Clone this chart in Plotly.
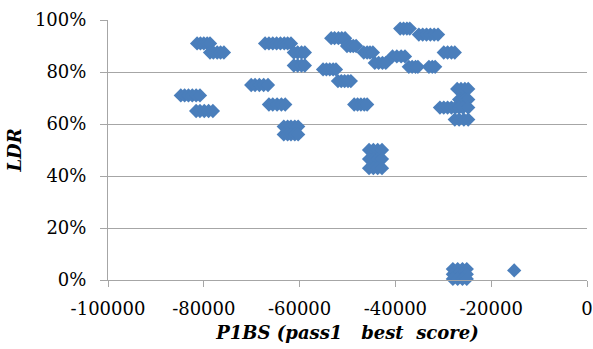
import plotly.graph_objects as go

# P1BS (pass1 best score) values and LDR (%) values
p1bs = [
    -81400, -80700, -80000, -79300, -78700,            # ~91%
    -78700, -78000, -77200, -76500, -75800,            # ~87.5%
    -84800, -84000, -83200, -82400, -81600, -80800,    # ~71%
    -81600, -80800, -79900, -79000, -78100,            # ~65%
    -70100, -69300, -68400, -67500, -66600,            # ~75%
    -66400, -65600, -64700, -63800, -63000,            # ~67.5%
    -67200, -66400, -65600, -64800, -64000, -63200, -62500, -61800,  # ~91%
    -61200, -60400, -59600, -58900,                    # ~87.5%
    -61200, -60400, -59600, -58900,                    # ~82.5%
    -63300, -62500, -61800, -61000, -60300,            # ~59%
    -63300, -62500, -61800, -61000, -60300,            # ~56%
    -53400, -52700, -51900, -51200, -50500,            # ~93%
    -50100, -49400, -48800, -48200,                    # ~90%
    -46600, -45900, -45300, -44700,                    # ~87.5%
    -44300, -43500, -42700, -42000,                    # ~83.5%
    -40600, -39700, -38800, -38000,                    # ~86%
    -55100, -54400, -53700, -53000, -52400,            # ~81%
    -52000, -51300, -50600, -49900, -49300,            # ~76.5%
    -48600, -47900, -47200, -46500, -45900,            # ~67.5%
    -39000, -38300, -37600, -37000,                    # ~96.7%
    -35100, -34300, -33500, -32700, -31900, -31100,    # ~94.4%
    -37200, -36500, -35800, -35300, -33000, -32300, -31700,  # ~82%
    -29900, -29100, -28300, -27600,                    # ~87.5%
    -27100, -26300, -25500, -24800,                    # ~73.5%
    -26700, -26000, -25400, -24800,                    # ~69.4%
    -30700, -29900, -29100, -28300, -27500, -26700, -25900, -24800,  # ~66.3%
    -27600, -26700, -25700, -24800,                    # ~61.7%
    -45500, -44600, -43700, -42800,                    # ~50%
    -45500, -44600, -43700, -42800,                    # ~46.5%
    -45500, -44600, -43700, -42800,                    # ~43%
    -28000, -27000, -26000, -25100,                    # ~4.2%
    -28000, -27000, -26000, -25100,                    # ~2.2%
    -28000, -27000, -26000, -25100,                    # ~0.4%
    -15200,                                            # ~3.7%
]
ldr = (
    [91.0] * 5 + [87.5] * 5 + [71.0] * 6 + [65.0] * 5 + [75.0] * 5 + [67.5] * 5
    + [91.0] * 8 + [87.5] * 4 + [82.5] * 4 + [59.0] * 5 + [56.0] * 5
    + [93.0] * 5 + [90.0] * 4 + [87.5] * 4 + [83.5] * 4 + [86.0] * 4
    + [81.0] * 5 + [76.5] * 5 + [67.5] * 5 + [96.7] * 4 + [94.4] * 6
    + [82.0] * 7 + [87.5] * 4 + [73.5] * 4 + [69.4] * 4 + [66.3] * 8
    + [61.7] * 4 + [50.0] * 4 + [46.5] * 4 + [43.0] * 4
    + [4.2] * 4 + [2.2] * 4 + [0.4] * 4 + [3.7]
)

x_tick_vals = [-100000, -80000, -60000, -40000, -20000, 0]
x_tick_text = ["-100000", "-80000", "-60000", "-40000", "-20000", "0"]
y_tick_vals = [0, 20, 40, 60, 80, 100]
y_tick_text = ["0%", "20%", "40%", "60%", "80%", "100%"]

blue = "#4a7ebb"
grid = "#a6a6a6"
font_family = "DejaVu Serif"

fig = go.Figure(
    go.Scatter(
        x=p1bs,
        y=ldr,
        mode="markers",
        marker=dict(symbol="diamond", size=11, color=blue, line=dict(width=0)),
        cliponaxis=False,
        hoverinfo="skip",
    )
)

fig.update_layout(
    width=593,
    height=349,
    margin=dict(l=108, r=6, t=20, b=69),
    paper_bgcolor="white",
    plot_bgcolor="white",
    showlegend=False,
    hovermode=False,
    font=dict(family=font_family, size=18, color="#000000"),
)

fig.update_xaxes(
    range=[-100000, 0],
    tickvals=x_tick_vals,
    ticktext=x_tick_text,
    showgrid=False,
    zeroline=False,
    showline=True,
    linecolor=grid,
    linewidth=1,
    ticks="outside",
    ticklen=6,
    tickcolor=grid,
    tickfont=dict(family=font_family, size=18),
    ticklabelstandoff=6,
    title=dict(
        text="<b><i>P1BS (pass1\u00a0\u00a0 best\u00a0\u00a0score)</i></b>",
        font=dict(family=font_family, size=18),
        standoff=8,
    ),
    automargin=False,
)

fig.update_yaxes(
    range=[0, 100],
    tickvals=y_tick_vals,
    ticktext=y_tick_text,
    showgrid=True,
    gridcolor=grid,
    gridwidth=1,
    zeroline=False,
    showline=True,
    linecolor=grid,
    linewidth=1,
    ticks="outside",
    ticklen=7,
    tickcolor=grid,
    tickfont=dict(family=font_family, size=18),
    ticklabelstandoff=10,
    title=dict(
        text="<b><i>LDR</i></b>",
        font=dict(family=font_family, size=18),
        standoff=8,
    ),
    automargin=False,
)

fig.write_html(
    "out.html",
    config={"displayModeBar": False, "staticPlot": True},
    post_script="document.body.style.margin='0';document.body.style.overflow='hidden';",
)
